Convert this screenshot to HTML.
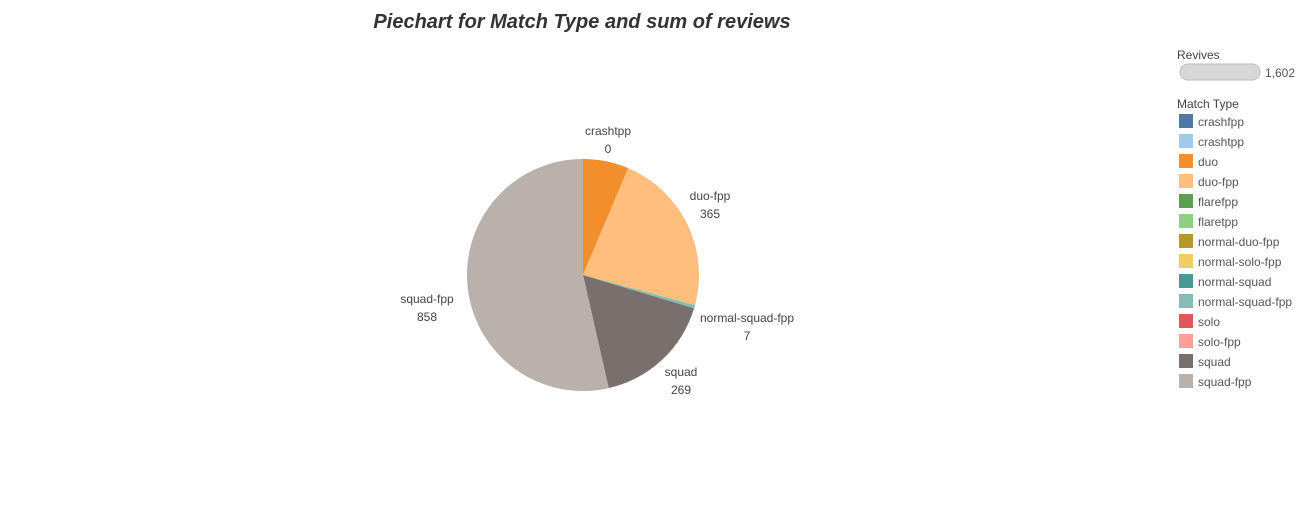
<!DOCTYPE html>
<html><head><meta charset="utf-8"><style>
body{margin:0;background:#fff;font-family:"Liberation Sans",sans-serif;}
#wrap{position:relative;width:1316px;height:508px;overflow:hidden;}
</style></head><body>
<div id="wrap">
<svg id="svg" width="1316" height="508">
<text x="582" y="28" text-anchor="middle" font-size="20" font-weight="bold" font-style="italic" fill="#333">Piechart for Match Type and sum of reviews</text>
<g id="slices"></g><g id="labels"></g>
<text x="1177" y="59" font-size="12" fill="#444">Revives</text>
<rect x="1180" y="64" width="80" height="16" rx="8" fill="#d7d7d7" stroke="#bbb"/>
<text x="1265" y="77" font-size="12" fill="#555">1,602</text>
<text x="1177" y="108" font-size="12" fill="#444">Match Type</text>
<g id="legend"></g>
</svg>
</div>
<script>
const legendNames=["crashfpp","crashtpp","duo","duo-fpp","flarefpp","flaretpp","normal-duo-fpp","normal-solo-fpp","normal-squad","normal-squad-fpp","solo","solo-fpp","squad","squad-fpp"];
const legendColors=["#4e79a7","#a0cbe8","#f28e2b","#ffbe7d","#59a14f","#8cd17d","#b6992d","#f1ce63","#499894","#86bcb6","#e15759","#ff9d9a","#79706e","#bab0ac"];
const sliceNames=["duo","duo-fpp","flaretpp","normal-squad-fpp","squad","squad-fpp"];
const sliceValues=[102,365,1,7,269,858];
const labelNames=["crashtpp","duo-fpp","normal-squad-fpp","squad","squad-fpp"];
const labelValues=["0","365","7","269","858"];
const labelPos=[[608,131],[710,196],[747,318],[681,372],[427,299]];
const NS="http://www.w3.org/2000/svg";
const cx=583,cy=275,r=116;
const total=sliceValues.reduce((a,b)=>a+b,0);
let a0=0;
const g=document.getElementById('slices');
sliceValues.forEach((v,i)=>{
 const a1=a0+v/total*2*Math.PI;
 const p=document.createElementNS(NS,'path');
 const x0=cx+r*Math.sin(a0),y0=cy-r*Math.cos(a0),x1=cx+r*Math.sin(a1),y1=cy-r*Math.cos(a1);
 p.setAttribute('d',`M${cx},${cy}L${x0},${y0}A${r},${r} 0 ${a1-a0>Math.PI?1:0} 1 ${x1},${y1}Z`);
 p.setAttribute('fill',legendColors[legendNames.indexOf(sliceNames[i])]);
 
 
 g.appendChild(p);a0=a1;
});
const lg=document.getElementById('labels');
labelNames.forEach((n,i)=>{
 [n,labelValues[i]].forEach((s,k)=>{
  const t=document.createElementNS(NS,'text');
  t.setAttribute('x',labelPos[i][0]);t.setAttribute('y',labelPos[i][1]+4+k*18);
  t.setAttribute('text-anchor','middle');t.setAttribute('font-size','12');t.setAttribute('fill','#444');
  t.textContent=s;
  
  
  lg.appendChild(t);
 });
});
const L=document.getElementById('legend');
legendNames.forEach((n,i)=>{
 const y=114+i*20;
 const rc=document.createElementNS(NS,'rect');
 rc.setAttribute('x',1179);rc.setAttribute('y',y);rc.setAttribute('width',14);rc.setAttribute('height',14);
 rc.setAttribute('fill',legendColors[i]);
 
 
 L.appendChild(rc);
 const t=document.createElementNS(NS,'text');
 t.setAttribute('x',1198);t.setAttribute('y',y+12);t.setAttribute('font-size','12');t.setAttribute('fill','#555');
 t.textContent=n;
 
 
 L.appendChild(t);
});
</script>
</body></html>
